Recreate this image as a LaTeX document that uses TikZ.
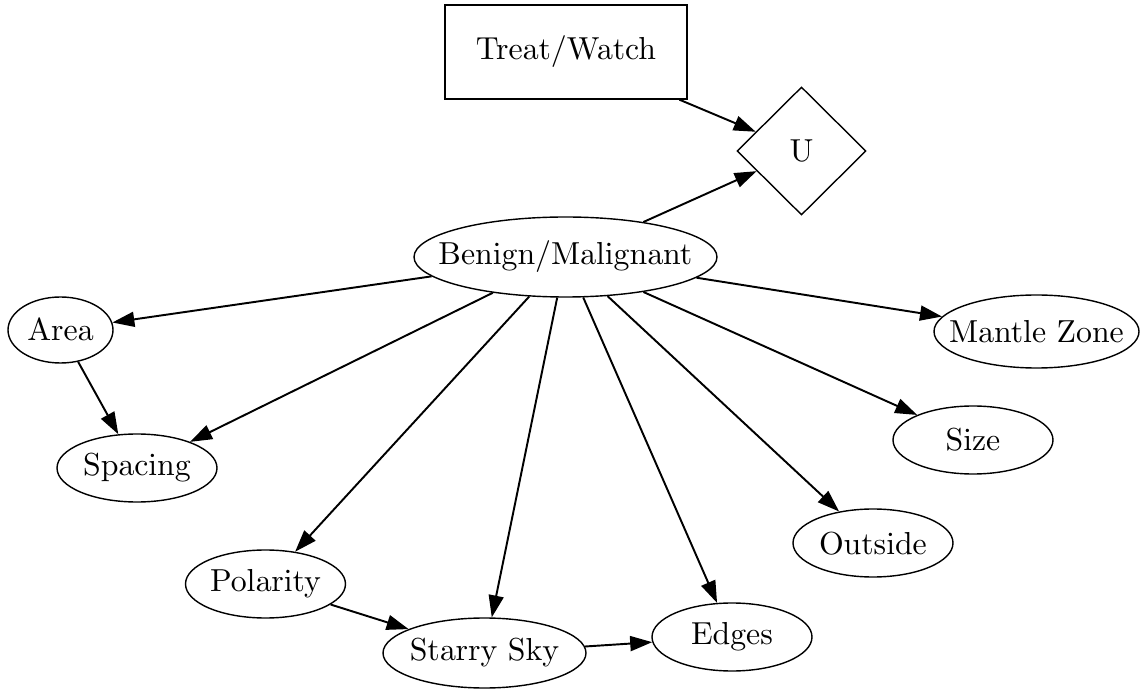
\documentclass[tikz,border=0pt]{standalone}
\usepackage{amsmath}
\usepackage{tikz}
\usetikzlibrary{shapes.geometric}
\usetikzlibrary{arrows.meta}
\usepackage{xcolor}
\font\nodefont=cmr10 at 18.1pt

\begin{document}
\begin{tikzpicture}[font=\nodefont,
  chance/.style={draw, ellipse, line width=0.8pt, inner sep=0pt, minimum width=3.2cm, minimum height=1.36cm, label=center:{#1}},
  decision/.style={draw, rectangle, line width=0.8pt, inner sep=0pt, minimum width=4.84cm, minimum height=1.88cm},
  utility/.style={draw, diamond, line width=0.8pt, inner sep=0pt, minimum width=2.58cm, minimum height=2.56cm},
  infl/.style={line width=1.1pt, -{Triangle[length=0.44cm,width=0.3cm]}}]
\useasboundingbox (0,0) rectangle (22.86,13.88);

\node[decision] (tw) at (11.32,12.84) {Treat/Watch};
\node[utility]  (u)  at (16.03,10.86) {U};
\node[chance=Benign/Malignant, minimum width=6.06cm, minimum height=1.6cm] (bm) at (11.31,8.74) {};
\node[chance=Area, minimum width=2.1cm, minimum height=1.32cm] (area) at (1.21,7.28) {};
\node[chance=Spacing] (spacing) at (2.74,4.52) {};
\node[chance=Mantle Zone, minimum width=4.1cm, minimum height=1.46cm] (mantle) at (20.73,7.25) {};
\node[chance=Size] (size) at (19.46,5.08) {};
\node[chance=Outside] (outside) at (17.46,3.02) {};
\node[chance=Polarity] (polarity) at (5.31,2.2) {};
\node[chance=Starry Sky, minimum width=4.06cm, minimum height=1.4cm] (starry) at (9.69,0.82) {};
\node[chance=Edges] (edges) at (14.64,1.14) {};

\draw[infl] (tw) -- (u);
\draw[infl] (bm) -- (u);
\foreach \t in {area,spacing,polarity,starry,edges,outside,size,mantle}
  \draw[infl] (bm) -- (\t);
\draw[infl] (area) -- (spacing);
\draw[infl] (polarity) -- (starry);
\draw[infl] (starry) -- (edges);

\end{tikzpicture}
\end{document}
